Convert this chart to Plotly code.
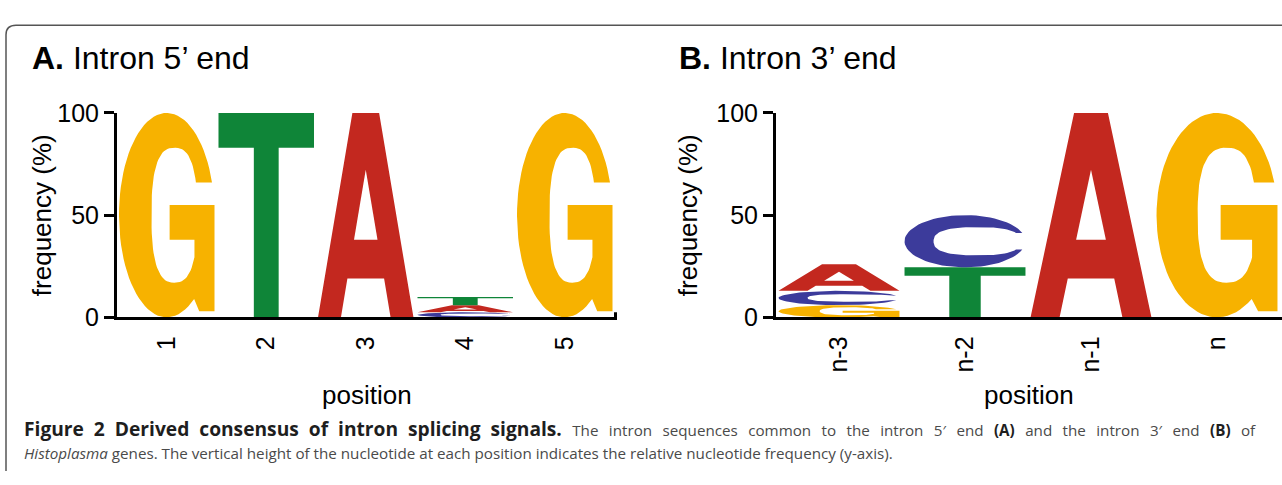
import numpy as np
import plotly.graph_objects as go

# ---------------- data ----------------
pos5_labels = ["1", "2", "3", "4", "5"]
a5 = [0, 0, 100, 3.5, 0]
c5 = [0, 0, 0, 2.5, 0]
g5 = [100, 0, 0, 0, 100]
t5 = [0, 100, 0, 4.0, 0]

pos3_labels = ["n-3", "n-2", "n-1", "n"]
a3 = [13, 0, 100, 0]
c3 = [7, 25.5, 0, 0]
g3 = [6, 0, 0, 100]
t3 = [0, 24.5, 0, 0]

y_ticks = [0, 50, 100]

COLORS = {"A": "#C3281F", "C": "#3C3B9B", "G": "#F7B200", "T": "#0F8538"}

W, H = 1282, 485
FONT = "Liberation Sans, Arial, Helvetica, sans-serif"


# ---------------- glyph outlines (unit box) ----------------
def ell(cx, cy, a, b, t0, t1, n=2.0, num=70):
    t = np.radians(np.linspace(t0, t1, num))
    c, s = np.cos(t), np.sin(t)
    e = 2.0 / n
    u = cx + a * np.sign(c) * np.abs(c) ** e
    v = cy + b * np.sign(s) * np.abs(s) ** e
    return list(zip(u, v))


def t_for_v(vt, cy, b, n):
    s = (vt - cy) / b
    return np.degrees(np.arcsin(np.sign(s) * abs(s) ** (n / 2.0)))


def t_for_u(ut, cx, a, n):
    c = (ut - cx) / a
    return np.degrees(np.arccos(np.sign(c) * abs(c) ** (n / 2.0)))


def glyph_G():
    term = 0.66
    th0 = np.degrees(np.arcsin((term - 0.5) / 0.5))
    pts = ell(0.5, 0.5, 0.5, 0.5, th0, 305)
    pts += [(0.84, 0.03), (1.0, 0.03), (1.0, 0.55), (0.53, 0.55),
            (0.53, 0.38), (0.79, 0.38)]
    cx, cy, a, b, n = 0.58, 0.5, 0.24, 0.33, 2.6
    ts = -t_for_u(0.79, cx, a, n)
    te = t_for_v(term, cy, b, n) - 360
    pts += ell(cx, cy, a, b, ts, te, n)
    return [pts], []


def glyph_C():
    term = 0.66
    th0 = np.degrees(np.arcsin((term - 0.5) / 0.5))
    pts = ell(0.5, 0.5, 0.5, 0.5, th0, 360 - th0)
    cx, cy, a, b, n = 0.6, 0.5, 0.36, 0.27, 2.6
    tl = t_for_v(1 - term, cy, b, n)
    th = t_for_v(term, cy, b, n) - 360
    pts += ell(cx, cy, a, b, tl, th, n)
    return [pts], []


def glyph_T():
    pts = [(0, 1), (1, 1), (1, 0.83), (0.63, 0.83), (0.63, 0),
           (0.37, 0), (0.37, 0.83), (0, 0.83)]
    return [pts], []


def glyph_A():
    outer = [(0, 0), (0.36, 1), (0.64, 1), (1, 0), (0.76, 0),
             (0.692, 0.19), (0.308, 0.19), (0.24, 0)]
    hole = [(0.377, 0.38), (0.5, 0.722), (0.623, 0.38)]
    return [outer], [hole]


GLYPHS = {"A": glyph_A(), "C": glyph_C(), "G": glyph_G(), "T": glyph_T()}


# ---------------- figure ----------------
fig = go.Figure()


def add_logo(labels, series, xref, yref, colw=0.96):
    for i, _ in enumerate(labels):
        col = [(nuc, vals[i]) for nuc, vals in series if vals[i] > 0]
        col.sort(key=lambda p: p[1])
        base = 0.0
        for nuc, h in col:
            rings, holes = GLYPHS[nuc]
            x0 = (i + 1) - colw / 2
            for ring, color in [(r, COLORS[nuc]) for r in rings] + [(r, "white") for r in holes]:
                xs = [x0 + u * colw for u, v in ring] + [x0 + ring[0][0] * colw]
                ys = [base + v * h for u, v in ring] + [base + ring[0][1] * h]
                fig.add_trace(go.Scatter(
                    x=xs, y=ys, xaxis=xref, yaxis=yref, mode="lines",
                    fill="toself", fillcolor=color,
                    line=dict(width=0, color=color),
                    hoverinfo="skip", showlegend=False))
            base += h


add_logo(pos5_labels, [("A", a5), ("C", c5), ("G", g5), ("T", t5)], "x", "y")
add_logo(pos3_labels, [("A", a3), ("C", c3), ("G", g3), ("T", t3)], "x2", "y2")

# geometry in pixels
y_bot_px, y_top_px = 322, 105
ydom = [(H - y_bot_px) / H, (H - y_top_px) / H]
A_left, A_right, A_step = 117, 617, 99.5
B_left, B_right, B_step = 776, 1282, 126

xa = dict(showline=True, linecolor="black", linewidth=3, mirror=False,
          ticks="outside", ticklen=6, tickcolor="rgba(0,0,0,0)",
          tickangle=-90, tickfont=dict(family=FONT, size=25, color="black"),
          showgrid=False, zeroline=False, fixedrange=True)
ya = dict(showline=True, linecolor="black", linewidth=3, ticks="outside",
          ticklen=10, tickwidth=3, tickcolor="black",
          tickvals=y_ticks, ticktext=[str(v) for v in y_ticks],
          tickfont=dict(family=FONT, size=25, color="black"),
          range=[0, 100], domain=ydom,
          showgrid=False, zeroline=False, fixedrange=True)

fig.update_layout(
    width=W, height=H, margin=dict(l=0, r=0, t=0, b=0),
    paper_bgcolor="white", plot_bgcolor="white", showlegend=False,
    xaxis=dict(xa, domain=[A_left / W, A_right / W],
               range=[0.5, 0.5 + (A_right - A_left) / A_step],
               tickvals=list(range(1, len(pos5_labels) + 1)),
               ticktext=pos5_labels, anchor="y"),
    yaxis=dict(ya, anchor="x"),
    xaxis2=dict(xa, domain=[B_left / W, B_right / W],
                range=[0.5, 0.5 + (B_right - B_left) / B_step],
                tickvals=list(range(1, len(pos3_labels) + 1)),
                ticktext=pos3_labels, anchor="y2"),
    yaxis2=dict(ya, anchor="x2"),
)

# small end tick on panel A x-axis
fig.add_shape(type="line", xref="x domain", yref="y", x0=0.997, x1=0.997,
              y0=0, y1=2.5, line=dict(color="black", width=3))


def px(x, y):
    return x / W, 1 - y / H


annots = []
for x, txt in [(30, "<b>A.</b> Intron 5’ end"), (677, "<b>B.</b> Intron 3’ end")]:
    xx, yy = px(x, 47)
    annots.append(dict(x=xx, y=yy, xref="paper", yref="paper", text=txt,
                       xanchor="left", yanchor="middle", showarrow=False,
                       font=dict(family=FONT, size=32, color="black")))
for x in [42, 688]:
    xx, yy = px(x, (y_bot_px + y_top_px) / 2)
    annots.append(dict(x=xx, y=yy, xref="paper", yref="paper",
                       text="frequency (%)", textangle=-90,
                       xanchor="center", yanchor="middle", showarrow=False,
                       font=dict(family=FONT, size=26, color="black")))
for x in [(A_left + A_right) / 2, (B_left + B_right) / 2]:
    xx, yy = px(x, 404)
    annots.append(dict(x=xx, y=yy, xref="paper", yref="paper",
                       text="position", xanchor="center", yanchor="middle",
                       showarrow=False,
                       font=dict(family=FONT, size=26, color="black")))

# caption (first line justified with slightly wider word gaps)
CAP = "Open Sans, Noto Sans, sans-serif"
dark = "#1e1e1e"
gb = " \u00a0"            # gap inside bold run
gr = " \u00a0\u2009"      # gap inside regular run


def jst(s, g):
    return s.replace(" ", g)


line1 = (f"<span style='color:{dark};font-size:19.2px'><b>{jst('Figure 2 Derived consensus of intron splicing signals.', gb)}</b></span>"
         + gr + jst("The intron sequences common to the intron 5′ end", gr) + gr
         + f"<span style='color:{dark}'><b>(A)</b></span>" + gr
         + jst("and the intron 3′ end", gr) + gr
         + f"<span style='color:{dark}'><b>(B)</b></span>" + gr + "of")
line2 = ("<i>Histoplasma</i> genes. The vertical height of the nucleotide at each "
         "position indicates the relative nucleotide frequency (y-axis).")
for y, txt in [(440, line1), (466, line2)]:
    xx, yy = px(22, y)
    annots.append(dict(x=xx, y=yy, xref="paper", yref="paper", text=txt,
                       xanchor="left", yanchor="middle", showarrow=False,
                       font=dict(family=CAP, size=15.2, color="#4a4a4a")))
fig.update_layout(annotations=annots)

x0, y0 = px(6, 485)
x1, y1 = px(6, 22)
x2, y2 = px(16, 12)
x3, y3 = px(1282, 12)
fig.add_shape(type="path", xref="paper", yref="paper",
              path=f"M {x0},{y0} L {x1},{y1} Q {x0},{y2} {x2},{y2} L {x3},{y3}",
              line=dict(color="#555555", width=1.5))

fig.write_html("out.html")
